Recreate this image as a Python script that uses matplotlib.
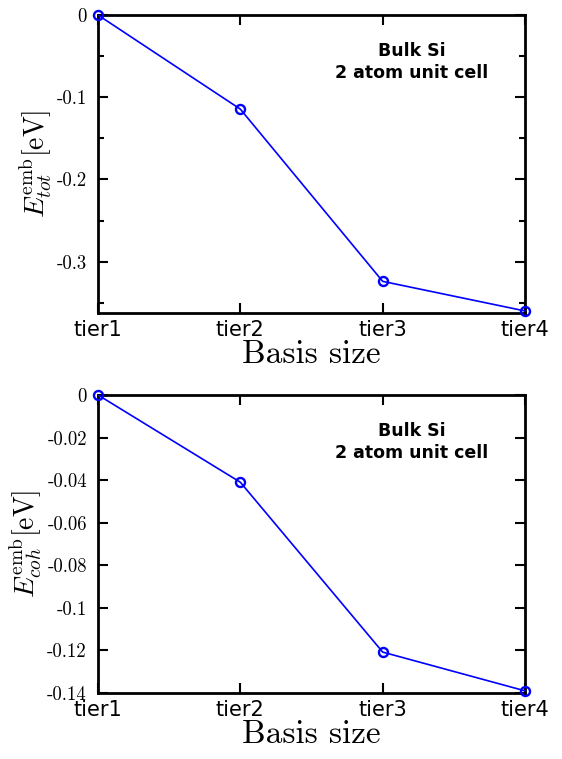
import matplotlib.pyplot as plt
from matplotlib.ticker import MultipleLocator

plt.rcParams['mathtext.fontset'] = 'cm'

tiers = ["tier1", "tier2", "tier3", "tier4"]
e_tot = [0.0, -0.1145, -0.324, -0.360]
e_coh = [0.0, -0.041, -0.1208, -0.139]

tot_ticks = [0, -0.1, -0.2, -0.3]
tot_labels = ["0", "-0.1", "-0.2", "-0.3"]
coh_ticks = [0, -0.02, -0.04, -0.06, -0.08, -0.1, -0.12, -0.14]
coh_labels = ["0", "-0.02", "-0.04", "-0.06", "-0.08", "-0.1", "-0.12", "-0.14"]

fig = plt.figure(figsize=(5.62, 7.59), dpi=100)
ax1 = fig.add_axes([0.1744, 0.5876, 0.7598, 0.3926])
ax2 = fig.add_axes([0.1744, 0.0870, 0.7598, 0.3926])

panels = [
    (ax1, e_tot, tot_ticks, tot_labels, (-0.3625, 0), r"$E^{\rm emb}_{tot}[\rm eV]$", 0.05),
    (ax2, e_coh, coh_ticks, coh_labels, (-0.14, 0), r"$E^{\rm emb}_{coh}[\rm eV]$", None),
]

x = list(range(len(tiers)))
for ax, vals, yt, yl, ylim, ylab, minor in panels:
    ax.plot(x, vals, "-", color="#0000ff", lw=1.2, zorder=3)
    ax.plot(x, vals, "o", mfc="none", mec="#0000ff", ms=6.5, mew=1.7,
            clip_on=False, zorder=4)
    ax.set_xlim(0, 3)
    ax.set_ylim(*ylim)
    ax.set_xticks(x)
    ax.set_xticklabels(tiers, fontsize=15, family="DejaVu Sans")
    ax.set_yticks(yt)
    ax.set_yticklabels(yl, fontsize=13.5, family="cmr10")
    if minor:
        ax.yaxis.set_minor_locator(MultipleLocator(minor))
    ax.tick_params(which="both", direction="in", top=True, right=True, width=1.5)
    ax.tick_params(which="major", length=7)
    ax.tick_params(which="minor", length=4)
    ax.tick_params(axis="x", pad=5)
    ax.tick_params(axis="y", pad=8)
    for s in ax.spines.values():
        s.set_linewidth(2)
    ax.set_xlabel("Basis size", family="cmr10", fontsize=24, labelpad=0)
    ax.set_ylabel(ylab, fontsize=20, labelpad=2)
    ax.text(0.735, 0.842, "Bulk Si\n2 atom unit cell", transform=ax.transAxes,
            ha="center", va="center", fontsize=12.5, fontweight="bold",
            linespacing=1.3)

fig.savefig("out.png", dpi=100)
